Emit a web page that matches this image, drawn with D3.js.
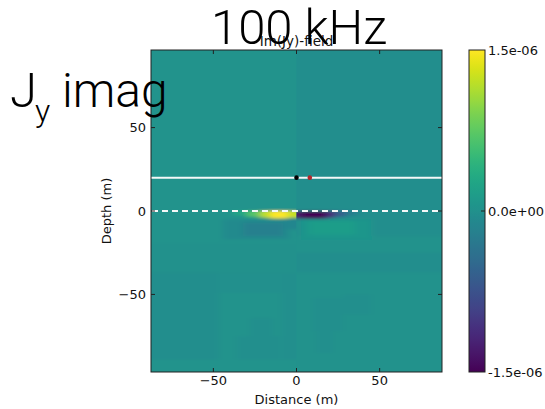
<!DOCTYPE html>
<html><head><meta charset="utf-8">
<script src="https://cdn.jsdelivr.net/npm/d3@7"></script>
<style>body{margin:0;background:#fff}svg{display:block}</style>
</head><body>
<svg id="c" width="545" height="409"></svg>
<script>
// ---------- data ----------
const xTicks = [-50, 0, 50];
const yTicks = [-50, 0, 50];
const cbarTickValues = [1.5, 0, -1.5];          // units of 1e-6
const cbarTickLabels = ["1.5e-06", "0.0e+00", "-1.5e-06"];
const leftBase = 0.04;                           // Im(Jy) background, x<0 (1e-6)
const rightBase = -0.03;                         // Im(Jy) background, x>0 (1e-6)
// patches: [x0, x1, depthTop, depthBottom, value (1e-6)]
const leftPatches = [
  [-88, 0, -19, -37, 0.01],
  [-88, -47, -37, -89, -0.025],
  [-47, -9, -37, -49, -0.005],
  [-9, 0, -37, -89, -0.02],
  [-28, -14, -64, -75, -0.015],
  [-36, -10, -75, -89, -0.015],
  [-44, -4, -5, -17, -0.08],
  [-32, -8, -7, -15, -0.2],
  [-8, 0, -4, -11, -0.12],
  [-38, -30, 0, -2.5, 0.3],
  [-30, -22, 0, -3.5, 0.7],
  [-22, -16, 0, -4, 1.2],
  [-16, -5, 0, -4.5, 1.5],
  [-5, 0, 0, -4, 1.25]
];
const rightPatches = [
  [0, 88, -15, -25, 0.02],
  [0, 88, -25, -37, -0.03],
  [0, 88, -37, -97, 0.035],
  [10, 28, -52, -72, -0.015],
  [28, 45, -50, -62, -0.015],
  [12, 22, -72, -85, -0.015],
  [3, 45, -5, -17, 0.08],
  [8, 35, -6, -14, 0.16],
  [0, 3, 0, -4.5, -1.3],
  [3, 18, 0, -4.5, -1.55],
  [18, 23, 0, -4, -1.15],
  [23, 30, 0, -3.5, -0.6],
  [30, 37, 0, -2.5, -0.25]
];
const receiverDepth = 20;
const surfaceDepth = 0;
const sources = [{x: 0, y: 20, color: "#000000"}, {x: 8, y: 20, color: "#b3262a"}];

// ---------- layout ----------
const svg = d3.select("#c");
const L = 151, R = 442, T = 50, B = 372;
const x = d3.scaleLinear().domain([-87.5, 87.5]).range([L, R]);
const y = d3.scaleLinear().domain([-96.5, 96.5]).range([B, T]);
const color = d3.scaleSequential(d3.interpolateViridis).domain([-1.5, 1.5]);
const tickFont = "'DejaVu Sans', sans-serif";

const defs = svg.append("defs");
defs.append("clipPath").attr("id", "clipL").append("rect")
  .attr("x", L).attr("y", T).attr("width", x(0) - L).attr("height", B - T);
defs.append("clipPath").attr("id", "clipR").append("rect")
  .attr("x", x(0)).attr("y", T).attr("width", R - x(0)).attr("height", B - T);
defs.append("filter").attr("id", "blur")
  .attr("x", "-10%").attr("y", "-10%").attr("width", "120%").attr("height", "120%")
  .append("feGaussianBlur").attr("stdDeviation", "3.5 1.7");

// underlay to avoid seam
svg.append("rect").attr("x", L).attr("y", T).attr("width", R - L).attr("height", B - T)
  .attr("fill", color((leftBase + rightBase) / 2));

function drawHalf(clipId, base, patches, left) {
  const g = svg.append("g").attr("clip-path", `url(#${clipId})`)
    .append("g").attr("filter", "url(#blur)");
  const x0 = left ? L - 15 : x(0) - 8, x1 = left ? x(0) + 8 : R + 15;
  g.append("rect").attr("x", x0).attr("y", T - 15).attr("width", x1 - x0)
    .attr("height", B - T + 30).attr("fill", color(base));
  g.selectAll("rect.p").data(patches).join("rect").attr("class", "p")
    .attr("x", d => {
      let a = x(d[0]);
      if (!left && d[0] === 0) a -= 8;
      if (left && d[0] <= -87.5) a -= 15;
      return a;
    })
    .attr("width", d => {
      let a = x(d[0]), b = x(d[1]);
      if (left && d[1] === 0) b += 8;
      if (!left && d[0] === 0) a -= 8;
      if (left && d[0] <= -87.5) a -= 15;
      if (!left && d[1] >= 87.5) b += 15;
      return b - a;
    })
    .attr("y", d => y(d[2]))
    .attr("height", d => {
      let b = y(d[3]);
      if (d[3] <= -96.5) b += 15;
      return b - y(d[2]);
    })
    .attr("fill", d => color(d[4]));
}
drawHalf("clipL", leftBase, leftPatches, true);
drawHalf("clipR", rightBase, rightPatches, false);

// lines & sources
svg.append("line").attr("x1", L).attr("x2", R)
  .attr("y1", y(receiverDepth)).attr("y2", y(receiverDepth))
  .attr("stroke", "#f4f8f8").attr("stroke-width", 2);
svg.append("line").attr("x1", L + 1).attr("x2", R)
  .attr("y1", y(surfaceDepth)).attr("y2", y(surfaceDepth))
  .attr("stroke", "#f4f8f8").attr("stroke-width", 2).attr("stroke-dasharray", "6,4");
svg.selectAll("circle.src").data(sources).join("circle").attr("class", "src")
  .attr("cx", d => x(d.x)).attr("cy", d => y(d.y)).attr("r", 2.3)
  .attr("fill", d => d.color);

// frame + ticks (inside, all sides)
svg.append("rect").attr("x", L).attr("y", T).attr("width", R - L).attr("height", B - T)
  .attr("fill", "none").attr("stroke", "#222").attr("stroke-width", 1);
const tk = svg.append("g").attr("stroke", "#222").attr("stroke-width", 1);
xTicks.forEach(v => {
  tk.append("line").attr("x1", x(v)).attr("x2", x(v)).attr("y1", B).attr("y2", B - 4);
  tk.append("line").attr("x1", x(v)).attr("x2", x(v)).attr("y1", T).attr("y2", T + 4);
});
yTicks.forEach(v => {
  tk.append("line").attr("x1", L).attr("x2", L + 4).attr("y1", y(v)).attr("y2", y(v));
  tk.append("line").attr("x1", R).attr("x2", R - 4).attr("y1", y(v)).attr("y2", y(v));
});
const fmt = v => (v < 0 ? "\u2212" : "") + Math.abs(v);
svg.append("g").selectAll("text").data(xTicks).join("text")
  .attr("x", d => x(d)).attr("y", 385).attr("text-anchor", "middle")
  .attr("font-family", tickFont).attr("font-size", 13).attr("fill", "#111").text(fmt);
svg.append("g").selectAll("text").data(yTicks).join("text")
  .attr("x", 146).attr("y", d => y(d) + 4.5).attr("text-anchor", "end")
  .attr("font-family", tickFont).attr("font-size", 13).attr("fill", "#111").text(fmt);
svg.append("text").attr("x", x(0)).attr("y", 404).attr("text-anchor", "middle")
  .attr("font-family", tickFont).attr("font-size", 13).attr("fill", "#111").text("Distance (m)");
svg.append("text").attr("transform", `translate(111,${(T + B) / 2}) rotate(-90)`)
  .attr("text-anchor", "middle").attr("font-family", tickFont).attr("font-size", 13)
  .attr("fill", "#111").text("Depth (m)");
svg.append("text").attr("x", x(0)).attr("y", 46).attr("text-anchor", "middle")
  .attr("font-family", tickFont).attr("font-size", 13.5).attr("fill", "#111").text("Im(Jy)-field");

// colorbar
const cbL = 469, cbW = 16;
const cy = d3.scaleLinear().domain([-1.5, 1.5]).range([B, T]);
const grad = defs.append("linearGradient").attr("id", "cbg")
  .attr("x1", 0).attr("y1", 1).attr("x2", 0).attr("y2", 0);
d3.range(0, 1.0001, 0.02).forEach(t => grad.append("stop")
  .attr("offset", t).attr("stop-color", d3.interpolateViridis(t)));
svg.append("rect").attr("x", cbL).attr("y", T).attr("width", cbW).attr("height", B - T)
  .attr("fill", "url(#cbg)").attr("stroke", "#222").attr("stroke-width", 1);
svg.append("line").attr("x1", cbL + cbW - 4).attr("x2", cbL + cbW)
  .attr("y1", cy(0)).attr("y2", cy(0)).attr("stroke", "#222");
svg.append("g").selectAll("text").data(cbarTickValues).join("text")
  .attr("x", 488).attr("y", d => cy(d) + 5).attr("font-family", tickFont)
  .attr("font-size", 13).attr("fill", "#111").text((d, i) => cbarTickLabels[i]);

// overlay labels
const bigFont = "Roboto, 'Liberation Sans', sans-serif";
svg.append("text").attr("x", 299).attr("y", 44).attr("text-anchor", "middle")
  .attr("font-family", bigFont).attr("font-weight", 300).attr("font-size", 49)
  .attr("fill", "#000").text("100 kHz");
svg.append("text").attr("x", 10).attr("y", 107)
  .attr("font-family", bigFont).attr("font-weight", 300).attr("font-size", 49)
  .attr("fill", "#000").text("J");
svg.append("text").attr("x", 35).attr("y", 122)
  .attr("font-family", bigFont).attr("font-weight", 300).attr("font-size", 32)
  .attr("fill", "#000").text("y");
svg.append("text").attr("x", 62).attr("y", 107)
  .attr("font-family", bigFont).attr("font-weight", 300).attr("font-size", 48)
  .attr("fill", "#000").text("imag");
</script>
</body></html>
